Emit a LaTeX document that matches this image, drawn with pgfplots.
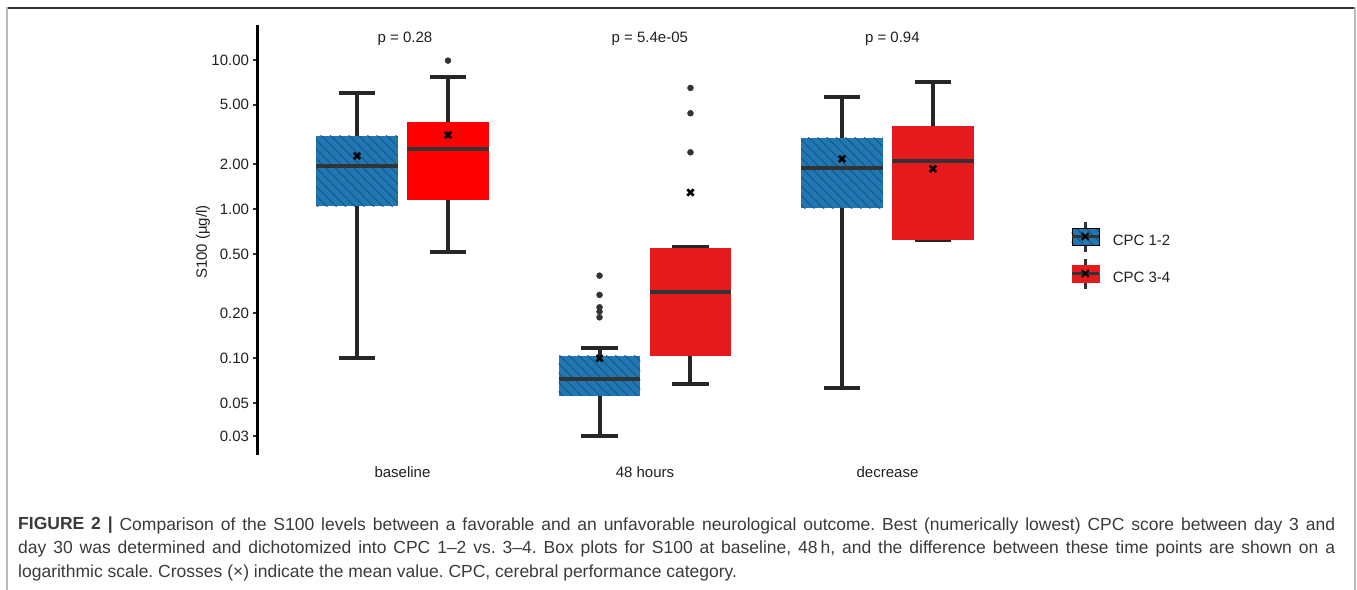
\documentclass[border=0pt]{standalone}
\usepackage{pgfplots}
\pgfplotsset{compat=1.18}
\usepgfplotslibrary{statistics}
\usetikzlibrary{patterns.meta}
\usepackage{fontspec}
\setmainfont{Liberation Sans}

\definecolor{cpcblue}{HTML}{1F78B4}
\definecolor{cpchatch}{HTML}{1A4C74}
\definecolor{cpcred}{HTML}{E41A1C}
\definecolor{basered}{HTML}{FF0000}
\definecolor{gray33}{HTML}{333333}
\definecolor{captxt}{HTML}{3A3A3A}

\pgfplotsset{
  s100 box/.style={forget plot,
    boxplot/draw direction=y,
    boxplot/box extend=0.3375,
    boxplot/whisker extend=0.15,
    boxplot/every median/.style={draw=gray33, line width=4pt},
    boxplot/every whisker/.style={draw=black!85, line width=4pt}},
  cpc12/.style={s100 box,
    boxplot/every box/.style={draw=none, preaction={fill=cpcblue, draw=none},
      pattern={Lines[angle=-45,distance=6.6pt,line width=0.7pt]}, pattern color=cpchatch}},
  cpc34/.style={s100 box,
    boxplot/every box/.style={fill=#1, draw=none}},
}

\begin{document}
\begin{tikzpicture}
\useasboundingbox (0pt,0pt) rectangle (1357pt,589pt);

% frame of the figure panel
\draw[gray33, line width=2pt] (6pt,581pt) -- (1356pt,581pt);
\draw[gray!55, line width=2pt] (7pt,582pt) -- (7pt,-2pt);
\draw[gray!55, line width=2pt] (1355pt,582pt) -- (1355pt,-2pt);

\begin{axis}[
  at={(257pt,134pt)}, anchor=south west,
  scale only axis, width=776pt, height=430pt,
  xmin=0.4, xmax=3.6,
  ymode=log, ymin=0.02234, ymax=17.17,
  axis lines*=left,
  x axis line style={draw=none},
  y axis line style={line width=3pt, black},
  xtick={1,2,3}, xticklabels={baseline,48 hours,decrease},
  xtick style={draw=none},
  ytick={0.03,0.05,0.1,0.2,0.5,1,2,5,10},
  yticklabels={0.03,0.05,0.10,0.20,0.50,1.00,2.00,5.00,10.00},
  minor ytick={},
  ytick style={line width=2.5pt, gray33},
  tick align=outside, major tick length=4.5pt,
  tick label style={font=\fontsize{15}{18}\selectfont, text=black!88},
  xticklabel style={yshift=-4pt},
  ylabel={S100 (µg/l)},
  every axis y label/.style={at={(axis description cs:-0.0696,0.495)}, rotate=90, anchor=center, font=\fontsize{15}{18}\selectfont, text=black!88},
  legend cell align=left,
  legend style={at={(axis description cs:1.0477,0.4651)}, anchor=west, draw=none, fill=none,
    inner sep=0pt, row sep=4pt, font=\fontsize{15}{18}\selectfont, text=black!88},
]

% baseline
\addplot[cpc12, boxplot prepared={draw position=0.8125,
  lower whisker=0.10, lower quartile=1.04, median=1.94, upper quartile=3.10, upper whisker=6.03}] coordinates {};
\addplot[cpc34=basered, boxplot prepared={draw position=1.1875,
  lower whisker=0.517, lower quartile=1.15, median=2.54, upper quartile=3.82, upper whisker=7.65}] coordinates {};
% 48 hours
\addplot[cpc12, boxplot prepared={draw position=1.8125,
  lower whisker=0.030, lower quartile=0.0558, median=0.0723, upper quartile=0.1037, upper whisker=0.117}] coordinates {};
\addplot[cpc34=cpcred, boxplot prepared={draw position=2.1875,
  lower whisker=0.067, lower quartile=0.1031, median=0.279, upper quartile=0.545, upper whisker=0.558}] coordinates {};
% decrease
\addplot[cpc12, boxplot prepared={draw position=2.8125,
  lower whisker=0.0629, lower quartile=1.01, median=1.89, upper quartile=3.01, upper whisker=5.65}] coordinates {};
\addplot[cpc34=cpcred, boxplot prepared={draw position=3.1875,
  lower whisker=0.619, lower quartile=0.619, median=2.10, upper quartile=3.61, upper whisker=7.08}] coordinates {};

% outliers
\addplot[forget plot, only marks, mark=*, mark size=3pt, gray33] coordinates {
  (1.1875,9.9)
  (1.8125,0.357) (1.8125,0.265) (1.8125,0.219) (1.8125,0.205) (1.8125,0.1875)
  (2.1875,6.49) (2.1875,4.39) (2.1875,2.40)
};
% means
\addplot[forget plot, only marks, mark=x, mark size=4.5pt, black, line width=2.6pt] coordinates {
  (0.8125,2.27) (1.1875,3.14)
  (1.8125,0.0995) (2.1875,1.29)
  (2.8125,2.17) (3.1875,1.86)
};

\addlegendimage{legend image code/.code={%
  \draw[gray33, line width=3pt] (13.5pt,-10pt) -- (13.5pt,20pt);
  \fill[cpcblue] (0pt,-3.5pt) rectangle (27pt,13.5pt);
  \fill[pattern={Lines[angle=-45,distance=6.6pt,line width=0.7pt]}, pattern color=cpchatch] (0pt,-3.5pt) rectangle (27pt,13.5pt);
  \draw[gray33, line width=3pt] (0pt,5pt) -- (27pt,5pt);
  \draw[black, line width=2pt] (10pt,1.5pt) -- (17pt,8.5pt) (10pt,8.5pt) -- (17pt,1.5pt);
  \path[draw=none, fill=none] (39pt,5pt) circle (0.1pt);
}}
\addlegendentry{CPC 1-2}
\addlegendimage{legend image code/.code={%
  \draw[gray33, line width=3pt] (13.5pt,-10pt) -- (13.5pt,20pt);
  \fill[cpcred] (0pt,-3.5pt) rectangle (27pt,13.5pt);
  \draw[gray33, line width=3pt] (0pt,5pt) -- (27pt,5pt);
  \draw[black, line width=2pt] (10pt,1.5pt) -- (17pt,8.5pt) (10pt,8.5pt) -- (17pt,1.5pt);
  \path[draw=none, fill=none] (39pt,5pt) circle (0.1pt);
}}
\addlegendentry{CPC 3-4}

\node[font=\fontsize{15}{18}\selectfont, text=black!88] at (axis cs:1.01,13.8) {p = 0.28};
\node[font=\fontsize{15}{18}\selectfont, text=black!88] at (axis cs:2.02,13.8) {p = 5.4e-05};
\node[font=\fontsize{15}{18}\selectfont, text=black!88] at (axis cs:3.02,13.8) {p = 0.94};
\end{axis}

\node[anchor=base west, inner sep=0pt, text=captxt, font=\fontsize{17.5}{24}\selectfont] at (18pt,59pt) {\parbox[t]{1317pt}{\frenchspacing
  \makebox[1317pt][s]{\textbf{FIGURE 2 |} Comparison of the S100 levels between a favorable and an unfavorable neurological outcome. Best (numerically lowest) CPC score between day 3 and}\\
  \makebox[1317pt][s]{day 30 was determined and dichotomized into CPC 1–2 vs. 3–4. Box plots for S100 at baseline, 48\,h, and the difference between these time points are shown on a}\\
  logarithmic scale. Crosses (×) indicate the mean value. CPC, cerebral performance category.}};
\end{tikzpicture}
\end{document}
